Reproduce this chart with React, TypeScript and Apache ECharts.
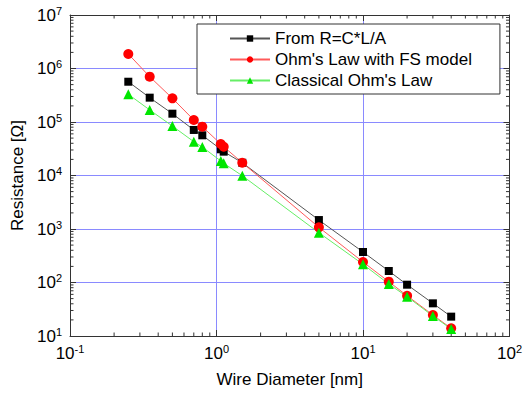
import React, { useEffect, useRef } from 'react';
import * as echarts from 'echarts';

const diameters = [0.25, 0.35, 0.5, 0.7, 0.8, 1.07, 1.12, 1.5, 5, 10, 15, 20, 30, 40];
const rFromCLA = [5.66e5, 2.85e5, 1.43e5, 7.1e4, 5.64e4, 3.09e4, 2.79e4, 1.73e4, 1470, 372, 164, 91, 40.8, 23];
const rOhmFS = [1.87e6, 7.03e5, 2.77e5, 1.09e5, 8.17e4, 3.88e4, 3.45e4, 1.73e4, 1076, 242, 103.5, 56.6, 24.7, 13.9];
const rClassical = [3.3e5, 1.68e5, 8.4e4, 4.28e4, 3.41e4, 1.87e4, 1.69e4, 9.9e3, 853, 219, 93.7, 54.3, 23.7, 13.5];
const seriesNames = ['From R=C*L/A', "Ohm's Law with FS model", "Classical Ohm's Law"];

const xTickValues = [0.1, 1, 10, 100];
const xTickExps = ['-1', '0', '1', '2'];
const yTickValues = [10, 100, 1000, 1e4, 1e5, 1e6, 1e7];
const yTickExps = ['1', '2', '3', '4', '5', '6', '7'];
const minorMultipliers = [2, 3, 4, 5, 6, 7, 8, 9];

const FONT = '"Liberation Sans", Arial, sans-serif';
const AXIS_COLOR = '#333';
const GRID_BLUE = '#8a8aff';

function expLabel(values: number[], exps: string[]) {
  return (v: number) => {
    let idx = -1;
    values.forEach((t, i) => {
      if (Math.abs(Math.log10(v) - Math.log10(t)) < 1e-6) idx = i;
    });
    if (idx < 0) return '';
    return `{b|10}{s|${exps[idx]}}`;
  };
}

const richLabel = {
  b: { fontSize: 17, fontFamily: FONT, color: '#000' },
  s: { fontSize: 11, fontFamily: FONT, color: '#000', verticalAlign: 'top', padding: [0, 0, 9, 0] },
};

export default function App() {
  const ref = useRef<HTMLDivElement>(null);
  useEffect(() => {
    if (!ref.current) return;
    const chart = echarts.init(ref.current, undefined, { renderer: 'svg' });
    const xMin = xTickValues[0];
    const xMax = xTickValues[xTickValues.length - 1];
    const yMin = yTickValues[0];
    const yMax = yTickValues[yTickValues.length - 1];
    const xMinor: number[][] = [];
    for (let i = 0; i < xTickValues.length - 1; i++) {
      minorMultipliers.forEach((m) => xMinor.push([xTickValues[i] * m, yMin]));
    }
    const yMinor: number[][] = [];
    for (let i = 0; i < yTickValues.length - 1; i++) {
      minorMultipliers.forEach((m) => yMinor.push([xMin, yTickValues[i] * m]));
    }
    const tickStyle = { stroke: AXIS_COLOR, lineWidth: 1 };
    const mk = (data: number[], color: string, lineColor: string, symbol: string, size: number, name: string) => ({
      name,
      type: 'line',
      data: diameters.map((d, i) => [d, data[i]]),
      symbol,
      symbolSize: size,
      itemStyle: { color },
      lineStyle: { color: lineColor, width: 1 },
      z: 5,
    });
    const option: any = {
      animation: false,
      grid: { left: 70, right: 14, top: 15, bottom: 58, containLabel: false },
      legend: {
        data: seriesNames,
        orient: 'vertical',
        left: 197,
        top: 24,
        backgroundColor: '#fff',
        borderColor: '#333',
        borderWidth: 1,
        borderRadius: 0,
        padding: [4, 28, 3, 32],
        itemWidth: 40,
        itemHeight: 8,
        itemGap: 0,
        selectedMode: false,
        textStyle: { fontSize: 17, lineHeight: 21, color: '#000', fontFamily: FONT },
        z: 10,
      },
      xAxis: [
        {
          type: 'log',
          logBase: 10,
          min: xMin,
          max: xMax,
          position: 'bottom',
          name: 'Wire Diameter [nm]',
          nameLocation: 'middle',
          nameGap: 35,
          nameTextStyle: { fontSize: 17, fontFamily: FONT, color: '#000' },
          axisLine: { show: true, lineStyle: { color: AXIS_COLOR, width: 1 } },
          axisTick: { show: true, inside: true, length: 6, lineStyle: { color: AXIS_COLOR } },
          splitLine: { show: true, lineStyle: { color: GRID_BLUE, width: 1 } },
          axisLabel: { formatter: expLabel(xTickValues, xTickExps), rich: richLabel, margin: 7 },
        },
        {
          type: 'log',
          logBase: 10,
          min: xMin,
          max: xMax,
          position: 'top',
          axisLine: { show: true, lineStyle: { color: AXIS_COLOR, width: 1 } },
          axisTick: { show: true, inside: true, length: 6, lineStyle: { color: AXIS_COLOR } },
          splitLine: { show: false },
          axisLabel: { show: false },
        },
      ],
      yAxis: [
        {
          type: 'log',
          logBase: 10,
          min: yMin,
          max: yMax,
          position: 'left',
          name: 'Resistance [Ω]',
          nameLocation: 'middle',
          nameGap: 36,
          nameTextStyle: { fontSize: 17, fontFamily: FONT, color: '#000' },
          axisLine: { show: true, lineStyle: { color: AXIS_COLOR, width: 1 } },
          axisTick: { show: true, inside: true, length: 6, lineStyle: { color: AXIS_COLOR } },
          splitLine: { show: true, lineStyle: { color: GRID_BLUE, width: 1 } },
          axisLabel: { formatter: expLabel(yTickValues, yTickExps), rich: richLabel, margin: 8 },
        },
        {
          type: 'log',
          logBase: 10,
          min: yMin,
          max: yMax,
          position: 'right',
          axisLine: { show: true, lineStyle: { color: AXIS_COLOR, width: 1 } },
          axisTick: { show: true, inside: true, length: 6, lineStyle: { color: AXIS_COLOR } },
          splitLine: { show: false },
          axisLabel: { show: false },
        },
      ],
      series: [
        {
          type: 'custom',
          silent: true,
          clip: false,
          xAxisIndex: 0,
          yAxisIndex: 0,
          data: xMinor,
          renderItem: (params: any, api: any) => {
            const x = api.value(0);
            const b = api.coord([x, yMin]);
            const t = api.coord([x, yMax]);
            return {
              type: 'group',
              children: [
                { type: 'line', shape: { x1: b[0], y1: b[1], x2: b[0], y2: b[1] - 3.5 }, style: tickStyle },
                { type: 'line', shape: { x1: t[0], y1: t[1], x2: t[0], y2: t[1] + 3.5 }, style: tickStyle },
              ],
            };
          },
        },
        {
          type: 'custom',
          silent: true,
          clip: false,
          xAxisIndex: 0,
          yAxisIndex: 0,
          data: yMinor,
          renderItem: (params: any, api: any) => {
            const y = api.value(1);
            const l = api.coord([xMin, y]);
            const r = api.coord([xMax, y]);
            return {
              type: 'group',
              children: [
                { type: 'line', shape: { x1: l[0], y1: l[1], x2: l[0] + 3.5, y2: l[1] }, style: tickStyle },
                { type: 'line', shape: { x1: r[0], y1: r[1], x2: r[0] - 3.5, y2: r[1] }, style: tickStyle },
              ],
            };
          },
        },
        mk(rFromCLA, '#000000', '#555555', 'rect', 8, seriesNames[0]),
        mk(rOhmFS, '#ff0000', '#ff5a5a', 'circle', 10, seriesNames[1]),
        mk(rClassical, '#00e600', '#66ee66', 'triangle', 10, seriesNames[2]),
      ],
    };
    chart.setOption(option);
    return () => chart.dispose();
  }, []);
  return (
    <div
      ref={ref}
      style={{ position: 'fixed', left: 0, top: 0, width: 525, height: 394, background: '#fff' }}
    />
  );
}
